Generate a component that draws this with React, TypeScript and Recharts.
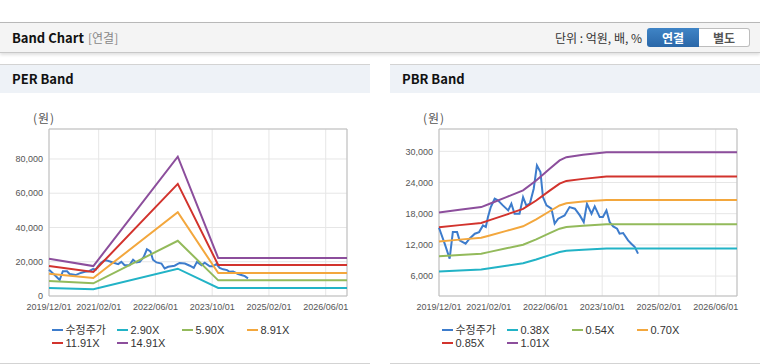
import React from "react"
import { CartesianGrid, Line, LineChart, ReferenceArea, XAxis, YAxis } from "recharts"

// x positions are months counted from 2019/12/01
const xTicks = [0, 14, 30, 46, 62, 78]
const xTickLabels = ["2019/12/01", "2021/02/01", "2022/06/01", "2023/10/01", "2025/02/01", "2026/06/01"]
const xMax = 84

// 수정주가 (adjusted price)
const priceMonths = [
  0, 1.6, 3, 3.9, 5.1, 5.8, 7.5, 8.6, 10.1, 11.3, 12.4, 13.2, 13.8, 14.6, 15.7, 16.6, 18, 19.5, 20.4, 21.3, 22.7, 23.7,
  24.6, 25.6, 26.7, 27.6, 28.6, 29.3, 30.3, 31.7, 32.6, 33.6, 35.4, 36.8, 38.3, 39.7, 40.8, 41.7, 43, 43.9, 45.3, 46.2,
  47.2, 48.1, 49.1, 50.2, 50.9, 51.9, 53.3, 54.2, 55.2, 56.1,
]
const priceValues = [
  15300, 12230, 9350, 14460, 14460, 12860, 12230, 13190, 14150, 14460, 15750, 15430, 17350, 19270, 20880, 20560, 19600,
  18630, 19920, 18000, 18000, 21190, 19600, 19920, 22810, 27290, 26000, 21190, 19600, 18960, 16080, 17040, 17670, 19270,
  18960, 17670, 16380, 19920, 18000, 19400, 17350, 17350, 18630, 16380, 15560, 15110, 14150, 14280, 12860, 12230, 11580,
  10310,
]

// PER band
const perMonths = [0, 12.5, 36.3, 47.7, 84]
const per290 = [4660, 3890, 15930, 4700, 4700]
const per590 = [8740, 7380, 32240, 9130, 9130]
const per891 = [13010, 10490, 48940, 13400, 13400]
const per1191 = [17480, 13980, 65450, 18060, 18060]
const per1491 = [21750, 17480, 81370, 22140, 22140]
const perYTicks = [0, 20000, 40000, 60000, 80000]

// PBR band
const pbrMonths = [0, 5.8, 11.9, 14.3, 19, 23.7, 27.4, 31.2, 34, 35.9, 40.6, 47.2, 84]
const pbr038 = [6870, 7060, 7250, 7490, 7970, 8460, 9180, 10030, 10630, 10860, 11040, 11300, 11300]
const pbr054 = [9800, 10040, 10300, 10650, 11330, 12020, 13050, 14250, 15110, 15440, 15690, 15980, 15980]
const pbr070 = [12650, 13010, 13360, 13810, 14690, 15580, 16910, 18470, 19580, 20020, 20340, 20650, 20650]
const pbr085 = [15400, 15800, 16220, 16760, 17830, 18920, 20540, 22430, 23780, 24310, 24700, 25150, 25150]
const pbr101 = [18250, 18770, 19270, 19920, 21190, 22480, 24400, 26650, 28250, 28880, 29350, 29820, 29820]
const pbrYTicks = [6000, 12000, 18000, 24000, 30000]

const colors = {
  price: "#3d7ccc",
  c1: "#22b3c6",
  c2: "#93ba5b",
  c3: "#f3a73d",
  c4: "#d2332d",
  c5: "#8c4e9c",
}

const FONT = "'Liberation Sans', 'Noto Sans CJK KR', sans-serif"
const KFONT = "'Noto Sans CJK KR', sans-serif"

const toPoints = (months: number[], values: number[]) => months.map((m, i) => ({ m, v: values[i] }))

type Series = { name: string; color: string; data: { m: number; v: number }[] }

function BandPanel({
  left,
  title,
  series,
  domain,
  ticks,
}: {
  left: number
  title: string
  series: Series[]
  domain: [number, number]
  ticks: number[]
}) {
  return (
    <div
      style={{
        position: "absolute",
        left,
        top: 64,
        width: 370,
        height: 300,
        borderTop: "1px solid #d3d3d3",
        borderBottom: "1px solid #d3d3d3",
        boxSizing: "border-box",
        background: "#fff",
      }}
    >
      <div
        style={{
          height: 28,
          background: "#eef2f7",
          fontFamily: KFONT,
          fontWeight: 700,
          fontSize: 13,
          lineHeight: "28px",
          paddingLeft: 12,
          color: "#111",
        }}
      >
        {title}
      </div>
      <div
        style={{
          position: "absolute",
          left: 33,
          top: 44,
          fontFamily: KFONT,
          fontSize: 12,
          letterSpacing: 1,
          color: "#555",
        }}
      >
        (원)
      </div>
      <div style={{ position: "absolute", left: 0, top: 35 }}>
        <LineChart width={370} height={220} margin={{ top: 29, right: 23, left: 0, bottom: 4 }}>
          <CartesianGrid stroke="#e6e6e6" />
          <XAxis
            type="number"
            dataKey="m"
            domain={[0, xMax]}
            ticks={xTicks}
            tickFormatter={(v: number) => xTickLabels[xTicks.indexOf(v)] ?? ""}
            axisLine={false}
            tickLine={false}
            height={20}
            interval={0}
            tick={{ fontSize: 9, fill: "#555", fontFamily: FONT }}
          />
          <YAxis
            type="number"
            domain={domain}
            ticks={ticks}
            width={49}
            axisLine={false}
            tickLine={false}
            tickMargin={0}
            interval={0}
            tickFormatter={(v: number) => v.toLocaleString("en-US")}
            tick={{ fontSize: 9, fill: "#555", fontFamily: FONT }}
          />
          <ReferenceArea x1={0} x2={xMax} y1={domain[0]} y2={domain[1]} fill="none" stroke="#bdbdbd" strokeWidth={1} />
          {series.map((s) => (
            <Line
              key={s.name}
              data={s.data}
              dataKey="v"
              type="linear"
              stroke={s.color}
              strokeWidth={2}
              dot={false}
              activeDot={false}
              isAnimationActive={false}
            />
          ))}
        </LineChart>
      </div>
      <div
        style={{
          position: "absolute",
          left: 52,
          top: 259,
          width: 264,
          display: "flex",
          flexWrap: "wrap",
          fontFamily: FONT,
          fontSize: 11,
          color: "#333",
        }}
      >
        {series.map((s) => (
          <div key={s.name} style={{ width: 65, height: 12.6, display: "flex", alignItems: "center" }}>
            <span style={{ width: 11, height: 2, background: s.color, marginRight: 2.5, display: "inline-block" }} />
            <span style={{ lineHeight: "12px" }}>{s.name}</span>
          </div>
        ))}
      </div>
    </div>
  )
}

export default function App() {
  const price = toPoints(priceMonths, priceValues)
  const perSeries: Series[] = [
    { name: "수정주가", color: colors.price, data: price },
    { name: "2.90X", color: colors.c1, data: toPoints(perMonths, per290) },
    { name: "5.90X", color: colors.c2, data: toPoints(perMonths, per590) },
    { name: "8.91X", color: colors.c3, data: toPoints(perMonths, per891) },
    { name: "11.91X", color: colors.c4, data: toPoints(perMonths, per1191) },
    { name: "14.91X", color: colors.c5, data: toPoints(perMonths, per1491) },
  ]
  const pbrSeries: Series[] = [
    { name: "수정주가", color: colors.price, data: price },
    { name: "0.38X", color: colors.c1, data: toPoints(pbrMonths, pbr038) },
    { name: "0.54X", color: colors.c2, data: toPoints(pbrMonths, pbr054) },
    { name: "0.70X", color: colors.c3, data: toPoints(pbrMonths, pbr070) },
    { name: "0.85X", color: colors.c4, data: toPoints(pbrMonths, pbr085) },
    { name: "1.01X", color: colors.c5, data: toPoints(pbrMonths, pbr101) },
  ]

  return (
    <div style={{ position: "absolute", left: 0, top: 0, width: 760, height: 364, background: "#fff", overflow: "hidden" }}>
      {/* top bar */}
      <div
        style={{
          position: "absolute",
          left: 0,
          top: 22,
          width: 760,
          height: 31,
          background: "#f4f4f4",
          borderTop: "1px solid #b8b8b8",
          borderBottom: "1px solid #c8c8c8",
          boxShadow: "0 2px 3px rgba(0,0,0,0.12)",
          boxSizing: "border-box",
        }}
      >
        <span
          style={{
            position: "absolute",
            left: 12,
            top: 0,
            lineHeight: "30px",
            fontFamily: KFONT,
            fontWeight: 700,
            fontSize: 13,
            color: "#111",
          }}
        >
          Band Chart
        </span>
        <span
          style={{ position: "absolute", left: 88, top: 0, lineHeight: "30px", fontFamily: KFONT, fontSize: 12, color: "#888" }}
        >
          [연결]
        </span>
        <span
          style={{
            position: "absolute",
            right: 118,
            top: 0,
            lineHeight: "30px",
            fontFamily: KFONT,
            fontSize: 12,
            color: "#333",
          }}
        >
          단위 : 억원, 배, %
        </span>
        <div
          style={{
            position: "absolute",
            left: 647,
            top: 5,
            width: 52,
            height: 19,
            background: "linear-gradient(#3f84c6, #2a67a8)",
            borderRadius: "3px 0 0 3px",
            color: "#fff",
            fontFamily: KFONT,
            fontWeight: 700,
            fontSize: 12,
            lineHeight: "19px",
            textAlign: "center",
          }}
        >
          연결
        </div>
        <div
          style={{
            position: "absolute",
            left: 699,
            top: 5,
            width: 51,
            height: 19,
            background: "#fff",
            border: "1px solid #bdbdbd",
            borderLeft: "none",
            borderRadius: "0 3px 3px 0",
            boxSizing: "border-box",
            color: "#555",
            fontFamily: KFONT,
            fontWeight: 700,
            fontSize: 12,
            lineHeight: "17px",
            textAlign: "center",
          }}
        >
          별도
        </div>
      </div>

      <BandPanel left={0} title="PER Band" series={perSeries} domain={[0, 97500]} ticks={perYTicks} />
      <BandPanel left={390} title="PBR Band" series={pbrSeries} domain={[2160, 34300]} ticks={pbrYTicks} />
    </div>
  )
}
